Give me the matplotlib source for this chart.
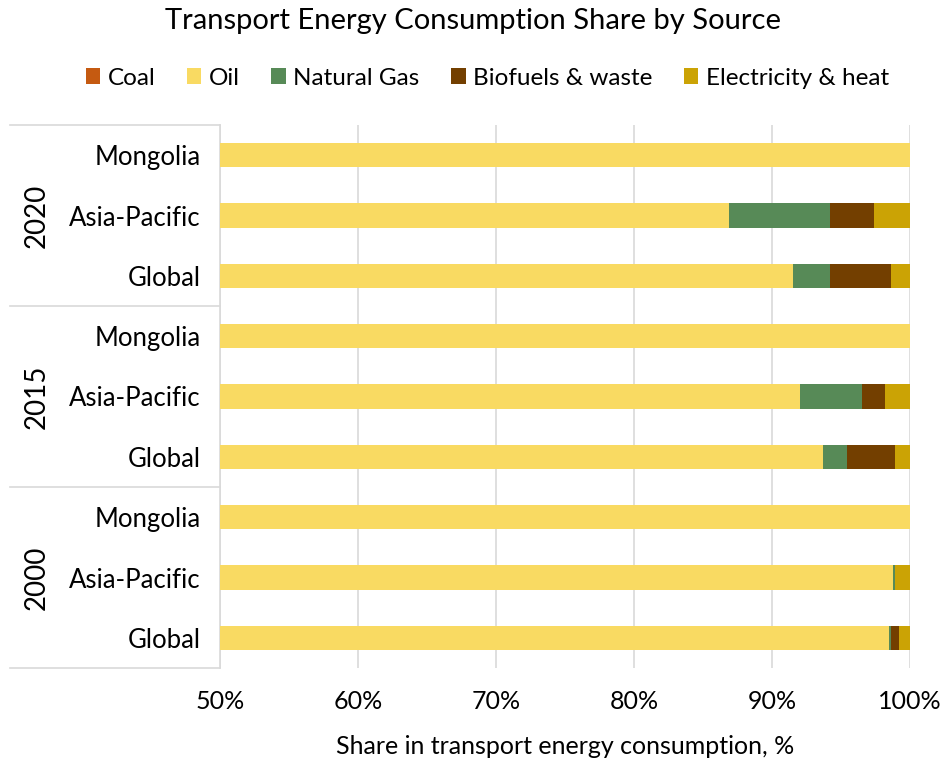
import numpy as np
import matplotlib
matplotlib.use("Agg")
import matplotlib.pyplot as plt

plt.rcParams['font.family'] = ['Lato', 'DejaVu Sans']

# categories, top to bottom
years = ["2020", "2015", "2000"]
regions = ["Mongolia", "Asia-Pacific", "Global"]

# shares in %, order: 2020 (Mongolia, Asia-Pacific, Global), 2015 (...), 2000 (...)
coal        = [0.0, 0.0, 0.0,   0.0, 0.0, 0.0,   0.0, 0.0, 0.0]
oil         = [100.0, 86.9, 91.5,   100.0, 92.0, 93.7,   100.0, 98.8, 98.5]
natural_gas = [0.0, 7.3, 2.7,   0.0, 4.5, 1.7,   0.0, 0.1, 0.1]
biofuels    = [0.0, 3.2, 4.4,   0.0, 1.7, 3.5,   0.0, 0.0, 0.6]
electricity = [0.0, 2.6, 1.4,   0.0, 1.8, 1.1,   0.0, 1.1, 0.8]

series = ["Coal", "Oil", "Natural Gas", "Biofuels & waste", "Electricity & heat"]
colors = ["#C55A11", "#F9DA62", "#578A57", "#733F00", "#CBA305"]

fig = plt.figure(figsize=(9.46, 7.65), dpi=100)
ax = fig.add_axes([220/946, 1-668/765, 690/946, 543/765])

n = len(oil)
y = np.arange(n)
left = np.zeros(n)
for name, vals, c in zip(series, [coal, oil, natural_gas, biofuels, electricity], colors):
    vals = np.array(vals)
    ax.barh(y, vals, left=left, height=0.4, color=c, label=name, zorder=3)
    left += vals

ax.set_xlim(50, 100)
ax.set_ylim(n - 0.5, -0.5)
ax.set_xticks(np.arange(50, 101, 10))
ax.set_xticklabels([f"{v}%" for v in range(50, 101, 10)], fontsize=18)
ax.tick_params(axis='x', length=0, pad=16)
ax.set_yticks(y)
ax.set_yticklabels(regions * len(years), fontsize=18.5)
ax.tick_params(axis='y', length=0, pad=14)
ax.grid(axis='x', color="#D9D9D9", linewidth=1.2, zorder=0)
for s in ["top", "right", "bottom"]:
    ax.spines[s].set_visible(False)
ax.spines["left"].set_color("#D9D9D9")
ax.spines["left"].set_linewidth(1.2)

ax.set_xlabel("Share in transport energy consumption, %", fontsize=18, labelpad=16)

# group separators and year labels on the left
for k in range(len(years) + 1):
    yy = k * 3 - 0.5
    ax.plot([-(220 - 10) / 690, 0], [yy, yy], transform=ax.get_yaxis_transform(),
            color="#D9D9D9", linewidth=1.2, clip_on=False)
for k, yr in enumerate(years):
    ax.text(-(220 - 37) / 690, k * 3 + 1, yr, transform=ax.get_yaxis_transform(),
            rotation=90, ha="center", va="center", fontsize=20)

fig.suptitle("Transport Energy Consumption Share by Source", fontsize=21, y=0.99)
fig.legend(loc="upper center", bbox_to_anchor=(0.515, 0.94), ncol=5, frameon=False,
           fontsize=17.5, handlelength=0.6, handleheight=0.6, handletextpad=0.3,
           columnspacing=1.3)

fig.savefig("out.png", dpi=100)
